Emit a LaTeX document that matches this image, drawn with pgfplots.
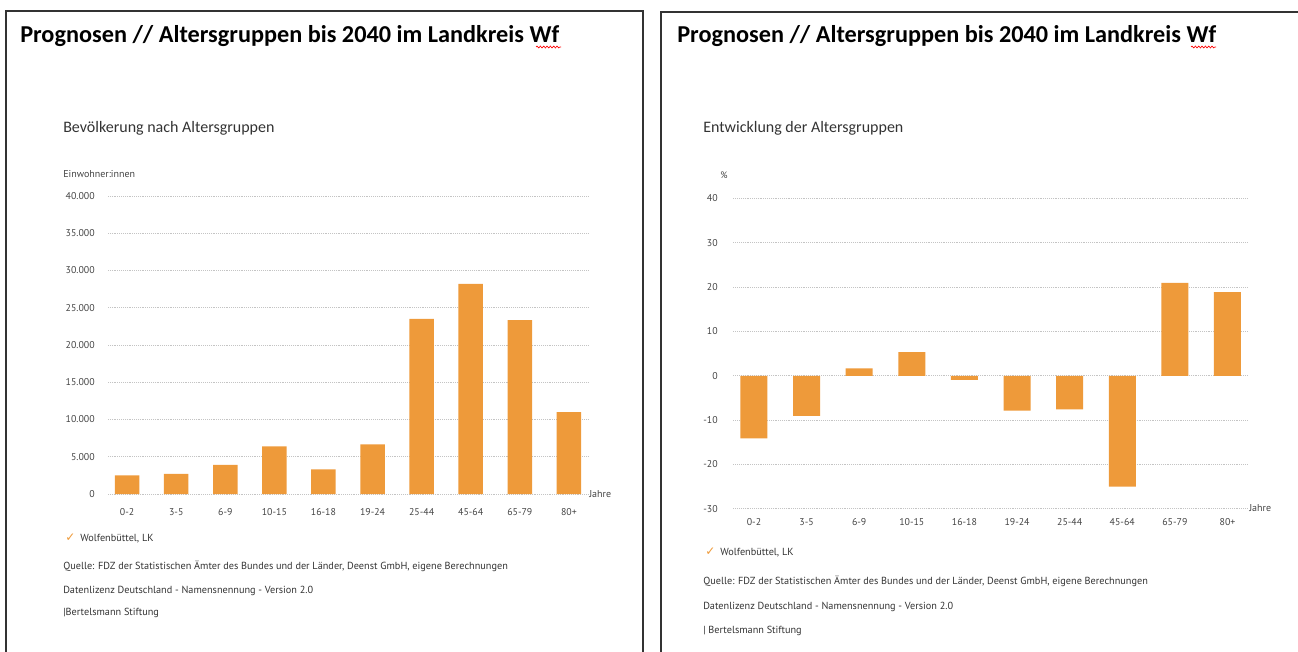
\documentclass[border=0pt]{standalone}
\usepackage{fontspec}
\setmainfont{PT Sans}
\newfontfamily\carlito{Carlito}
\newfontfamily\dejavu{DejaVu Sans}
\usepackage{pgfplots}
\pgfplotsset{compat=1.18}
\usetikzlibrary{decorations.pathmorphing}
\definecolor{barorange}{HTML}{EE9A3A}
\definecolor{txtgray}{HTML}{444444}
\definecolor{gridgray}{HTML}{C4C4C4}
\definecolor{framegray}{HTML}{333333}
\pgfplotsset{mystyle/.style={
  scale only axis, anchor=south west,
  axis line style={draw=none},
  major tick length=0pt,
  ymajorgrids,
  grid style={gridgray, line width=0.6pt, dash pattern=on 0.5pt off 0.9pt},
  xtick={0,...,9},
  xticklabels={0-2,3-5,6-9,10-15,16-18,19-24,25-44,45-64,65-79,80+},
  xmin=-0.39, xmax=9.39,
  tick label style={font=\fontsize{7.4}{8.5}\selectfont, text=txtgray, inner sep=0pt},
  /pgf/number format/assume math mode=true,
  ybar,
  clip=false,
}}
\newcommand{\smalltxt}{\fontsize{7.7}{9}\selectfont\color{framegray}}
\begin{document}
\begin{tikzpicture}[x=0.75pt,y=0.75pt]
\useasboundingbox (0,0) rectangle (1298,651);
% frames
\draw[line width=1.1pt, framegray] (6,-5) -- (6,640) -- (643,640) -- (643,-5);
\draw[line width=1.1pt, framegray] (661,-5) -- (661,639) -- (1305,639);
% titles
\node[anchor=base west, inner sep=0] at (20,608) {\carlito\bfseries\fontsize{18.2}{20}\selectfont Prognosen // Altersgruppen bis 2040 im Landkreis Wf};
\node[anchor=base west, inner sep=0] at (677,608) {\carlito\bfseries\fontsize{18.2}{20}\selectfont Prognosen // Altersgruppen bis 2040 im Landkreis Wf};
\draw[red, line width=0.5pt, decorate, decoration={snake, amplitude=0.7pt, segment length=2.5pt}] (536,604) -- (561,604);
\draw[red, line width=0.5pt, decorate, decoration={snake, amplitude=0.7pt, segment length=2.5pt}] (1191,604) -- (1216,604);
% subtitles
\node[anchor=base west, inner sep=0] at (63,518) {\carlito\fontsize{12}{14}\selectfont\color{framegray}Bevölkerung nach Altersgruppen};
\node[anchor=base west, inner sep=0] at (703,518) {\carlito\fontsize{12}{14}\selectfont\color{framegray}Entwicklung der Altersgruppen};
\node[anchor=base west, inner sep=0] at (63,474) {\fontsize{7.5}{9}\selectfont\color{txtgray}Einwohner:innen};
\node[anchor=base west, inner sep=0] at (720,472) {\fontsize{7}{8}\selectfont\color{txtgray}\%};
\node[anchor=base west, inner sep=0] at (589,154) {\fontsize{7.5}{9}\selectfont\color{txtgray}Jahre};
\node[anchor=base west, inner sep=0] at (1249,140) {\fontsize{7.5}{9}\selectfont\color{txtgray}Jahre};
% legends and notes, left
\node[anchor=base west, inner sep=0] at (65,110) {\dejavu\fontsize{9}{10}\selectfont\color{barorange}✓};
\node[anchor=base west, inner sep=0] at (80,110) {\smalltxt Wolfenbüttel, LK};
\node[anchor=base west, inner sep=0] at (63,82) {\smalltxt Quelle: FDZ der Statistischen Ämter des Bundes und der Länder, Deenst GmbH, eigene Berechnungen};
\node[anchor=base west, inner sep=0] at (63,58) {\smalltxt Datenlizenz Deutschland - Namensnennung - Version 2.0};
\node[anchor=base west, inner sep=0] at (63,36) {\smalltxt |Bertelsmann Stiftung};
% legends and notes, right
\node[anchor=base west, inner sep=0] at (705,96) {\dejavu\fontsize{9}{10}\selectfont\color{barorange}✓};
\node[anchor=base west, inner sep=0] at (720,96) {\smalltxt Wolfenbüttel, LK};
\node[anchor=base west, inner sep=0] at (703,67) {\smalltxt Quelle: FDZ der Statistischen Ämter des Bundes und der Länder, Deenst GmbH, eigene Berechnungen};
\node[anchor=base west, inner sep=0] at (703,42) {\smalltxt Datenlizenz Deutschland - Namensnennung - Version 2.0};
\node[anchor=base west, inner sep=0] at (703,18) {\smalltxt | Bertelsmann Stiftung};
% left chart
\begin{axis}[mystyle, at={(81pt,117.75pt)}, width=360pt, height=223.5pt,
  ymin=0, ymax=40000, ytick={0,5000,...,40000}, scaled y ticks=false,
  yticklabel style={anchor=east, xshift=-9.75pt, /pgf/number format/.cd, fixed, 1000 sep={.}},
  xticklabel style={anchor=center, yshift=-13.5pt},
  bar width=18.4pt]
\addplot[fill=barorange, draw=none] coordinates {(0,2500) (1,2700) (2,3900) (3,6400) (4,3300) (5,6650) (6,23500) (7,28200) (8,23350) (9,11000)};
\end{axis}
% right chart
\begin{axis}[mystyle, at={(550.1pt,106.7pt)}, width=385.9pt, height=232.65pt,
  ymin=-30, ymax=40, ytick={-30,-20,...,40},
  yticklabel style={anchor=east, xshift=-11.6pt},
  xticklabel style={anchor=center, yshift=-10pt},
  bar width=20.25pt]
\addplot[fill=barorange, draw=none] coordinates {(0,-14.1) (1,-9.05) (2,1.7) (3,5.35) (4,-0.9) (5,-7.85) (6,-7.6) (7,-25.0) (8,20.95) (9,18.9)};
\end{axis}
\end{tikzpicture}
\end{document}
